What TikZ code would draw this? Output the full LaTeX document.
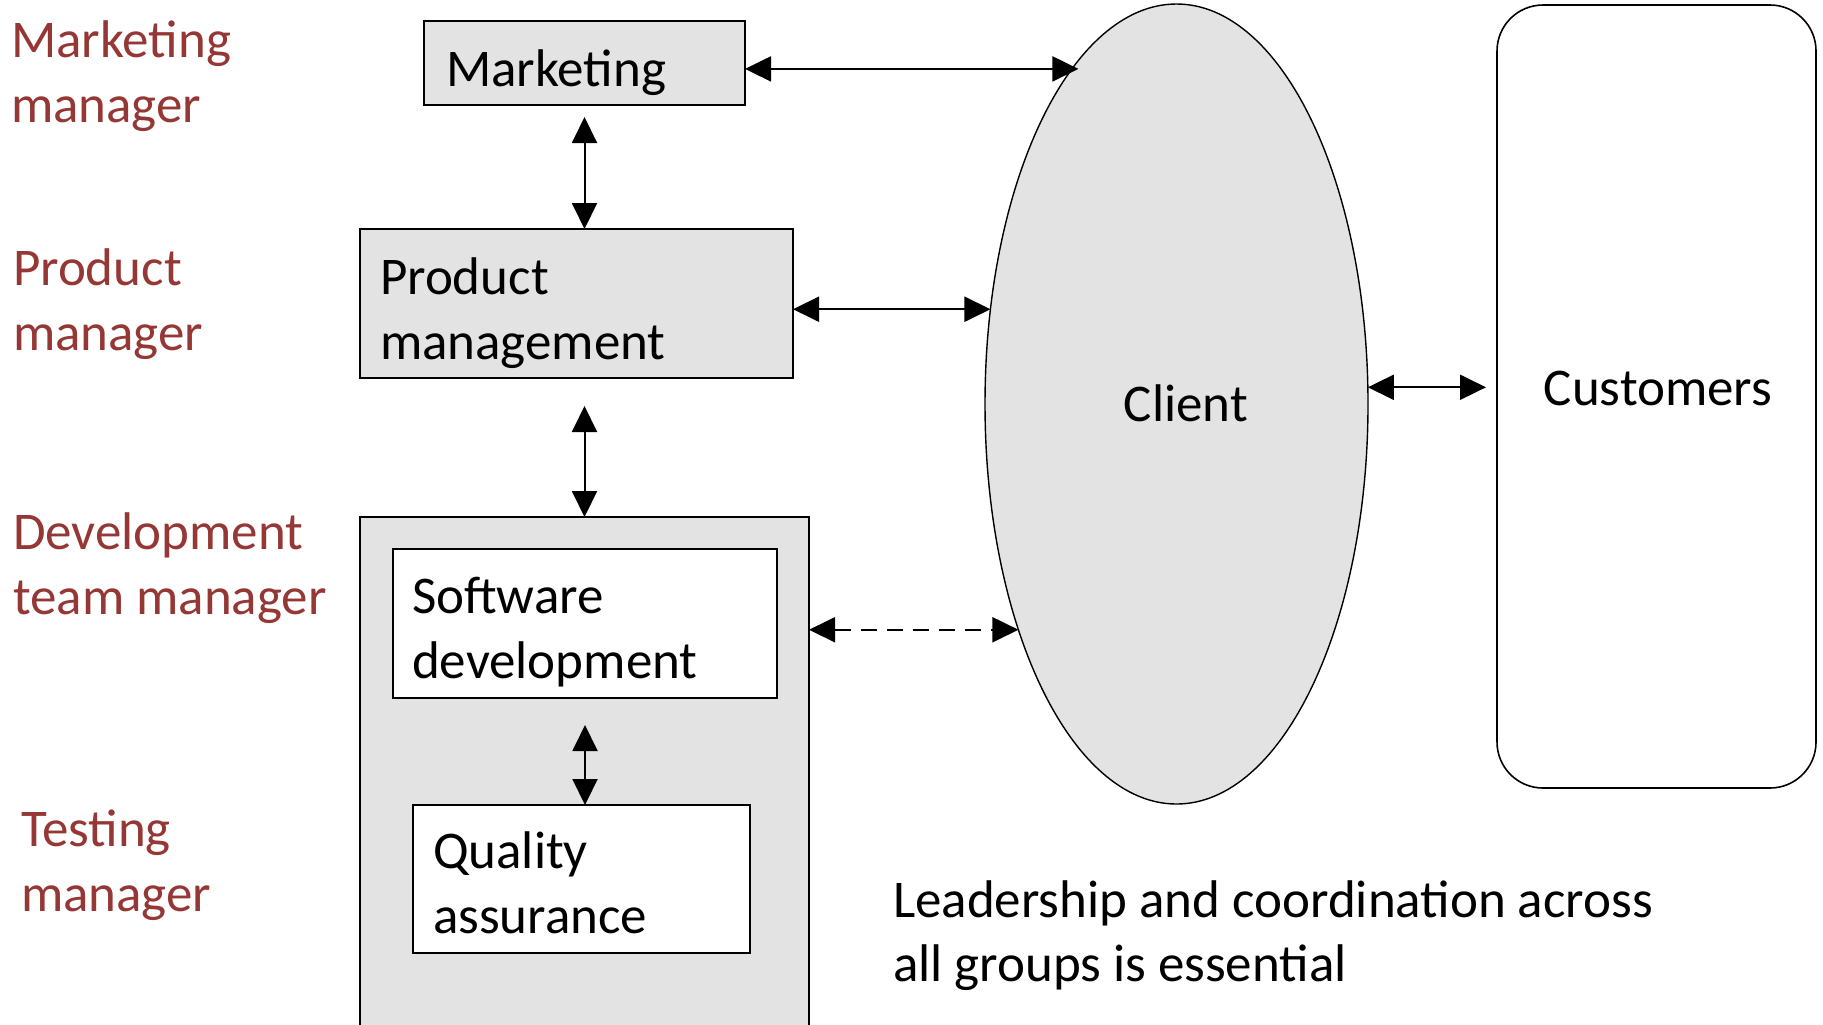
\documentclass[tikz,border=0pt]{standalone}
\usepackage{fontspec}
\setmainfont{Carlito}
\usetikzlibrary{arrows.meta,shapes.geometric}
\definecolor{boxgray}{HTML}{E3E3E3}
\definecolor{labred}{HTML}{953735}
\begin{document}
\begin{tikzpicture}[x=0.5pt,y=-0.5pt,
  box/.style={draw=black, line width=1pt, fill=boxgray, inner sep=0pt, outer sep=0pt, rectangle},
  wbox/.style={box, fill=white},
  txt/.style={inner sep=0pt, outer sep=0pt, anchor=base west, font=\fontsize{26.5}{32.25}\selectfont},
  lab/.style={txt, text=labred},
  link/.style={line width=1pt, {Triangle[length=13pt,width=12.5pt]}-{Triangle[length=13pt,width=12.5pt]}},
]
\useasboundingbox (0,0) rectangle (1823,1024);
\clip (0,0) rectangle (1823,1024);

% boxes
\node[box, minimum width=160.5pt, minimum height=42pt] (mkt) at (584.5,63) {};
\node[box, minimum width=216.5pt, minimum height=74.5pt] (pm) at (576.5,303.5) {};
\node[box, minimum width=224.5pt, minimum height=271.5pt] (dev) at (584.5,788.5) {};
\node[wbox, minimum width=192pt, minimum height=74.5pt] (sd) at (585,623.5) {};
\node[wbox, minimum width=168.5pt, minimum height=74pt] (qa) at (581.5,879) {};
\node[ellipse, draw=black, line width=0.7pt, fill=boxgray, inner sep=0pt, outer sep=0pt,
      minimum width=191.5pt, minimum height=400pt] (client) at (1176.5,404) {};
\node[draw=black, line width=0.8pt, fill=white, rounded corners=23pt, inner sep=0pt, outer sep=0pt,
      minimum width=159.5pt, minimum height=391.5pt] (cust) at (1656.5,396.5) {};

% texts in boxes
\node[txt] (tmkt) at (446,86) {Marketing};
\node[txt] (tpm) at (380,294.5) {\begin{tabular}[t]{@{}l@{}}Product\\management\end{tabular}};
\node[txt] (tsd) at (412,613.5) {\begin{tabular}[t]{@{}l@{}}Software\\development\end{tabular}};
\node[txt] (tqa) at (433,868.5) {\begin{tabular}[t]{@{}l@{}}Quality\\assurance\end{tabular}};
\node[txt, anchor=base] (tclient) at (1186,421.5) {Client};
\node[txt, anchor=base] (tcust) at (1658,405) {Customers};

% role labels
\node[lab] (lmkt) at (11,57.5) {\begin{tabular}[t]{@{}l@{}}Marketing\\manager\end{tabular}};
\node[lab] (lpm) at (13,285.5) {\begin{tabular}[t]{@{}l@{}}Product\\manager\end{tabular}};
\node[lab] (ldev) at (13,549.5) {\begin{tabular}[t]{@{}l@{}}Development\\team manager\end{tabular}};
\node[lab] (ltest) at (21,846.5) {\begin{tabular}[t]{@{}l@{}}Testing\\manager\end{tabular}};

% note
\node[txt] (note) at (893,917) {\begin{tabular}[t]{@{}l@{}}Leadership and coordination across\\all groups is essential\end{tabular}};

% connectors
\coordinate (mktend) at ([shift={(2.5pt,-1pt)}]client.107);
\draw[link] (mkt.east |- mktend) -- (mktend);
\draw[link, shorten <=6pt] (mkt.south) -- (mkt.south |- pm.north);
\draw[link] (pm.east |- client.153) -- (client.153);
\draw[link, shorten <=14pt] (dev.north |- pm.south) -- (dev.north);
\draw[link, shorten <=13.5pt] (sd.south) -- (sd.south |- qa.north);
\draw[link, dash pattern=on 8pt off 5pt] (dev.east |- client.235) -- (client.235);
\draw[link, shorten >=5.5pt] (client.5) -- (client.5 -| cust.west);
\end{tikzpicture}
\end{document}
